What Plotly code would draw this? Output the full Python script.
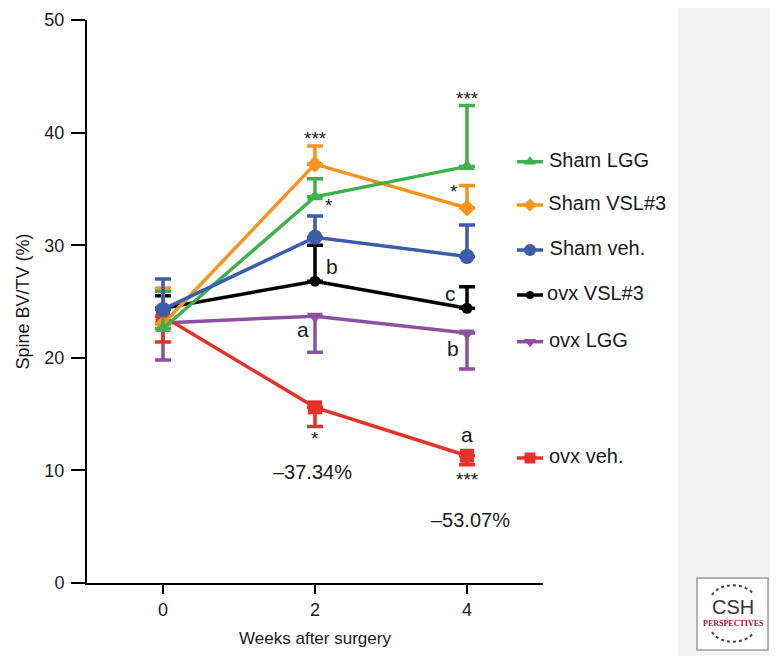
import plotly.graph_objects as go

weeks = [0, 2, 4]
series_names = ["Sham LGG", "Sham VSL#3", "Sham veh.", "ovx VSL#3", "ovx LGG", "ovx veh."]
colors = ["#3db14b", "#f7941e", "#3b5caa", "#000000", "#8d4f9f", "#e8312a"]
symbols = ["triangle-up", "diamond", "circle", "circle", "triangle-down", "square"]
msizes = [14, 13, 15, 11, 14, 14]

sham_lgg = [22.6, 34.3, 37.0]
sham_vsl = [23.0, 37.2, 33.3]
sham_veh = [24.3, 30.7, 29.0]
ovx_vsl = [24.4, 26.8, 24.4]
ovx_lgg = [23.1, 23.7, 22.2]
ovx_veh = [23.7, 15.6, 11.3]

err_plus = [
    [3.3, 1.6, 5.4],
    [3.2, 1.6, 2.0],
    [2.7, 1.9, 2.8],
    [1.1, 3.2, 1.9],
    [0, 0, 0],
    [0, 0, 0],
]
err_minus = [
    [0, 0, 0],
    [0, 0, 0],
    [0, 0, 0],
    [0, 0, 0],
    [3.3, 3.2, 3.2],
    [2.3, 1.7, 0.8],
]
values = [sham_lgg, sham_vsl, sham_veh, ovx_vsl, ovx_lgg, ovx_veh]

# significance / letter annotations (x in weeks, y in %)
ann_x = [2.0, 2.18, 2.22, 1.84, 2.0, 1.97, 4.0, 3.83, 3.78, 3.82, 4.0, 4.0, 4.04]
ann_y = [39.5, 33.5, 28.1, 22.5, 12.8, 9.9, 43.0, 34.8, 25.7, 20.8, 13.2, 9.2, 5.6]
ann_text = ["***", "*", "b", "a", "*", "–37.34%", "***", "*", "c", "b", "a", "***", "–53.07%"]
ann_size = [19, 19, 21, 21, 19, 20, 19, 19, 21, 21, 21, 19, 20]

# legend rows (screen-pixel units on a helper axis)
legend_rows = [161.7, 205, 250, 295, 341.7, 458]

FONT = "Liberation Sans, Arial, sans-serif"
OFF = 8                      # page body margin of the browser
SW, SH = 778, 656            # screen size
W, H = SW - OFF, SH - OFF    # figure size
# target plot area in screen pixels
S_LEFT, S_TOP, S_BOTTOM, S_RIGHT = 87, 20, 583, 543
L = S_LEFT - OFF
T = S_TOP - OFF
B = H - (S_BOTTOM - OFF)
plot_w = W - L
plot_h = H - T - B

def px(xs):
    return (xs - S_LEFT) / plot_w

def py(ys):
    return (S_BOTTOM - ys) / plot_h

fig = go.Figure()

draw_order = [4, 5, 3, 1, 0, 2]
for i in draw_order:
    fig.add_trace(go.Scatter(
        x=weeks, y=values[i], mode="lines+markers", name=series_names[i],
        line=dict(color=colors[i], width=3.5),
        marker=dict(symbol=symbols[i], size=msizes[i], color=colors[i], line=dict(width=0)),
        error_y=dict(type="data", symmetric=False, array=err_plus[i], arrayminus=err_minus[i],
                     color=colors[i], thickness=3.5, width=8),
        showlegend=False, cliponaxis=False,
    ))

# manual legend
for i, yy in enumerate(legend_rows):
    fig.add_trace(go.Scatter(
        x=[517, 530, 543], y=[yy, yy, yy], mode="lines", xaxis="x2", yaxis="y2",
        line=dict(color=colors[i], width=3.5), showlegend=False, hoverinfo="skip",
        cliponaxis=False,
    ))
    fig.add_trace(go.Scatter(
        x=[530], y=[yy], mode="markers+text", xaxis="x2", yaxis="y2",
        marker=dict(symbol=symbols[i], size=msizes[i] - 3, color=colors[i]),
        text=["  " + series_names[i]], textposition="middle right",
        textfont=dict(family=FONT, size=20, color="#1a1a1a"),
        showlegend=False, hoverinfo="skip", cliponaxis=False,
    ))

annotations = []
for xx, yy, tt, ss in zip(ann_x, ann_y, ann_text, ann_size):
    annotations.append(dict(x=xx, y=yy, xref="x", yref="y", text=tt, showarrow=False,
                            font=dict(family=FONT, size=ss, color="#1a1a1a")))

# logo
annotations.append(dict(x=px(733), y=py(607), xref="paper", yref="paper", text="CSH",
                        xanchor="center", yanchor="middle", showarrow=False,
                        font=dict(family="Liberation Sans, sans-serif", size=20, color="#333333")))
annotations.append(dict(x=px(733), y=py(623), xref="paper", yref="paper", text="<b>PERSPECTIVES</b>",
                        xanchor="center", yanchor="middle", showarrow=False,
                        font=dict(family="Liberation Serif, serif", size=8, color="#8b1a2b")))

shapes = [
    dict(type="rect", xref="paper", yref="paper", x0=px(678), x1=px(SW + 5), y0=py(SH + 5), y1=py(-5),
         fillcolor="#f4f4f4", line=dict(width=0), layer="below"),
    dict(type="rect", xref="paper", yref="paper", x0=px(697), x1=px(768), y0=py(650), y1=py(578),
         fillcolor="#ffffff", line=dict(color="#9a9a9a", width=1.5)),
    dict(type="path", xref="paper", yref="paper",
         path=f"M {px(712)},{py(595)} C {px(720)},{py(582)} {px(746)},{py(582)} {px(754)},{py(595)}",
         line=dict(color="#444444", width=2, dash="dot")),
    dict(type="path", xref="paper", yref="paper",
         path=f"M {px(712)},{py(632)} C {px(720)},{py(645)} {px(746)},{py(645)} {px(754)},{py(632)}",
         line=dict(color="#444444", width=2, dash="dot")),
]

fig.update_layout(
    width=W, height=H,
    margin=dict(l=L, r=0, t=T, b=B),
    paper_bgcolor="white", plot_bgcolor="rgba(0,0,0,0)",
    font=dict(family=FONT, size=18, color="#1a1a1a"),
    xaxis=dict(domain=[0, (S_RIGHT - S_LEFT) / plot_w], range=[-1, 5], tickvals=weeks,
               ticktext=[str(w) for w in weeks], showgrid=False, zeroline=False,
               showline=True, linecolor="black", linewidth=2, ticks="outside", ticklen=9,
               tickwidth=2, tickcolor="black", tickfont=dict(size=18), automargin=False,
               title=dict(text="Weeks after surgery", font=dict(size=17), standoff=14)),
    yaxis=dict(range=[0, 50], tickvals=[0, 10, 20, 30, 40, 50], showgrid=False, zeroline=False,
               showline=True, linecolor="black", linewidth=2, ticks="outside", ticklen=14,
               tickwidth=2, tickcolor="black", tickfont=dict(size=18), automargin=False,
               ticklabeloverflow="allow", ticklabelstandoff=3,
               title=dict(text="Spine BV/TV (%)", font=dict(size=18), standoff=10)),
    xaxis2=dict(overlaying="x", range=[S_LEFT, S_RIGHT], visible=False,
                anchor="y2", fixedrange=True, automargin=False),
    yaxis2=dict(overlaying="y", range=[S_BOTTOM, S_TOP], visible=False, anchor="x2",
                fixedrange=True, automargin=False),
    annotations=annotations,
    shapes=shapes,
)

fig.write_html("out.html")
